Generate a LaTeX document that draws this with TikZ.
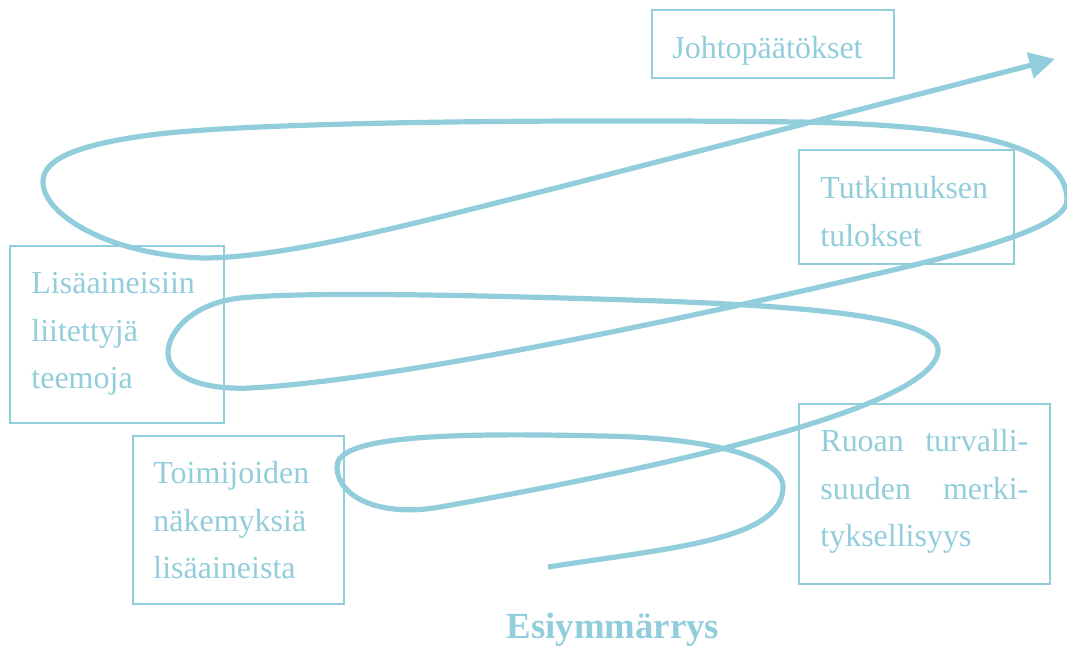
\documentclass[tikz,border=0pt]{standalone}
\usepackage{fontspec}
\setmainfont{Liberation Serif}
\usetikzlibrary{arrows.meta}
\definecolor{lb}{HTML}{92CDDC}
\tikzset{
  box/.style={draw=lb, line width=1pt, rectangle, inner sep=0pt, anchor=north west},
  txt/.style={text=lb, inner sep=0pt, anchor=base west, align=left,
    font=\fontsize{16pt}{23.75pt}\selectfont},
  spiral/.style={draw=lb, line width=2.6pt, -{Triangle[length=12.8pt,width=12.8pt]}}
}
\begin{document}
\begin{tikzpicture}[x=0.5pt,y=-0.5pt]
\useasboundingbox (0,0) rectangle (1067,646);
% boxes
\node[box, minimum width=121pt, minimum height=34pt] (jbox) at (651,9) {};
\node[box, minimum width=107.5pt, minimum height=57pt] (tbox) at (798,149) {};
\node[box, minimum width=107pt, minimum height=88.5pt] (lbox) at (9,245) {};
\node[box, minimum width=105.5pt, minimum height=84pt] (obox) at (132,435) {};
\node[box, minimum width=125.5pt, minimum height=90pt] (rbox) at (798,403) {};
% texts
\node[txt] (jtxt) at (672,59) {Johtopäätökset};
\node[txt, text width=100pt] (ttxt) at (820,199) {Tutkimuksen\\tulokset};
\node[txt, text width=100pt] (ltxt) at (31,294) {Lisäaineisiin\\liitettyjä\\teemoja};
\node[txt, text width=100pt] (otxt) at (153,484) {Toimijoiden\\näkemyksiä\\lisäaineista};
\node[txt, text width=104pt] (rtxt) at (820,452) {\makebox[104pt][l]{Ruoan\hfill turvalli-}\\\makebox[104pt][l]{suuden\hfill merki-}\\tyksellisyys};
\node[text=lb, inner sep=0pt, anchor=base, font=\fontsize{18.4pt}{22pt}\selectfont\bfseries] (esi) at (613,639) {Esiymmärrys};
% spiral
\draw[spiral] (548,567) .. controls (670,548) and (783,540) .. (783,487)
  .. controls (783,455) and (700,437) .. (600,436)
  .. controls (430,432) and (336,438) .. (337,467)
  .. controls (338,500) and (385,517) .. (440,507)
  .. controls (650,470) and (930,410) .. (938,352)
  .. controls (942,318) and (820,307) .. (660,301)
  .. controls (450,294) and (300,292) .. (240,298)
  .. controls (195,303) and (168,330) .. (168,353)
  .. controls (168,378) and (205,390) .. (250,388)
  .. controls (400,380) and (700,315) .. (850,280)
  .. controls (950,257) and (1067,230) .. (1067,200)
  .. controls (1067,140) and (950,125) .. (800,122)
  .. controls (550,119) and (250,122) .. (150,135)
  .. controls (60,147) and (43,165) .. (43,182)
  .. controls (43,215) and (110,255) .. (203,258)
  .. controls (290,258) and (430,219) .. (560,187)
  -- (1055,59);
\end{tikzpicture}
\end{document}
